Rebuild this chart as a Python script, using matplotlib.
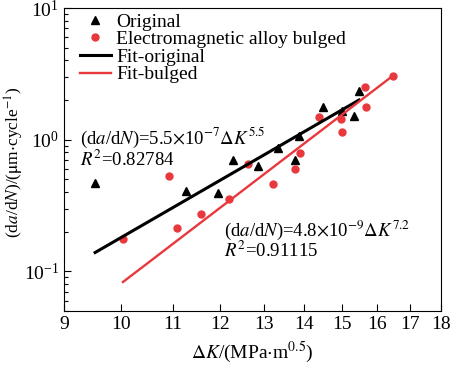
import numpy as np
import matplotlib.pyplot as plt
from matplotlib.ticker import FixedLocator, NullLocator, FixedFormatter

plt.rcParams['font.family'] = ['Liberation Serif', 'DejaVu Serif']
plt.rcParams['mathtext.fontset'] = 'stix'
plt.rcParams['font.size'] = 14

# original material (triangles)
k_orig = [9.53, 11.26, 11.95, 12.29, 12.85, 13.34, 13.76, 13.86, 14.48, 15.00, 15.35, 15.49]
v_orig = [0.470, 0.406, 0.395, 0.706, 0.628, 0.870, 0.702, 1.072, 1.757, 1.638, 1.52, 2.35]

# electromagnetic alloy bulged (circles)
k_bulg = [10.04, 10.92, 11.07, 11.58, 12.20, 12.62, 13.22, 13.76, 13.89, 14.39, 14.98, 15.00, 15.65, 15.67, 16.47]
v_bulg = [0.175, 0.527, 0.213, 0.274, 0.356, 0.655, 0.462, 0.600, 0.793, 1.475, 1.43, 1.136, 2.53, 1.78, 3.02]

# fit line end points
k_fit_orig = [9.53, 15.48]
v_fit_orig = [0.139, 2.00]
k_fit_bulg = [10.03, 16.47]
v_fit_bulg = [0.083, 3.05]

xticks = [9, 10, 11, 12, 13, 14, 15, 16, 17, 18]

red = '#e8383d'

fig = plt.figure(figsize=(4.5, 3.66), dpi=100)
ax = fig.add_axes([64/450, 55/366, 377/450, 303/366])

ax.plot(k_orig, v_orig, '^', color='black', ms=6, label='Original')
ax.plot(k_bulg, v_bulg, 'o', color=red, ms=5, label='Electromagnetic alloy bulged')
ax.plot(k_fit_orig, v_fit_orig, '-', color='black', lw=2.2, label='Fit-original')
ax.plot(k_fit_bulg, v_fit_bulg, '-', color=red, lw=1.7, label='Fit-bulged')

ax.set_xscale('log')
ax.set_yscale('log')
ax.set_xlim(9, 18)
ax.set_ylim(0.05, 10)
ax.xaxis.set_major_locator(FixedLocator(xticks))
ax.xaxis.set_major_formatter(FixedFormatter([str(t) for t in xticks]))
ax.xaxis.set_minor_locator(NullLocator())
ax.tick_params(which='both', direction='in', top=False, right=False)
ax.tick_params(which='major', length=5, width=0.8, labelsize=14)
ax.tick_params(which='minor', length=3, width=0.8)

ax.set_xlabel(r'$\Delta K$/(MPa$\cdot$m$^{0.5}$)', labelpad=5)
ax.set_ylabel(r'(d$a$/d$N$)/($\mathrm{\mu}$m$\cdot$cycle$^{-1}$)', fontsize=12.5)
ax.yaxis.set_label_coords(-0.102, 0.49)

ax.text(0.042, 0.61, r'(d$a$/d$N$)=5.5$\times$10$^{-7}$$\Delta K^{5.5}$' + '\n' + r'$R^2$=0.82784',
        transform=ax.transAxes, va='top', ha='left', linespacing=0.95, fontsize=13.5)
ax.text(0.424, 0.305, r'(d$a$/d$N$)=4.8$\times$10$^{-9}$$\Delta K^{7.2}$' + '\n' + r'$R^2$=0.91115',
        transform=ax.transAxes, va='top', ha='left', linespacing=0.95, fontsize=13.5)

ax.legend(loc='upper left', bbox_to_anchor=(0.0, 1.035), frameon=False, handlelength=1.6,
          handletextpad=0.3, labelspacing=0.0, borderpad=0.3, fontsize=14)

fig.savefig('out.png', dpi=100)
